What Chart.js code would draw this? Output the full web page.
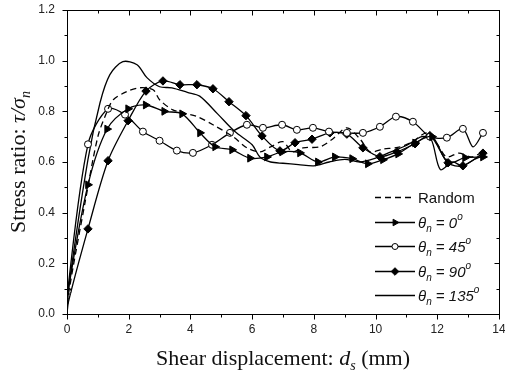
<!DOCTYPE html>
<html lang="en">
<head>
  <meta charset="UTF-8">
  <title>Stress ratio vs shear displacement</title>
  <script src="https://cdn.jsdelivr.net/npm/chart.js"></script>
  <style>
    html, body { margin: 0; padding: 0; background: #fff; }
    .chart-box { width: 505px; height: 381px; }
  </style>
</head>
<body>
  <div class="chart-box"><canvas id="shearChart"></canvas></div>

  <script>
    // values (shear displacement in mm, stress ratio)
    const randomX = [0, 0.05, 0.6, 1.0, 1.3, 1.5, 1.94, 2.37, 2.79, 3.0, 3.43, 4.2, 4.73, 5.38, 5.83, 6.26, 6.6, 7.0, 7.3, 7.65, 8.2, 8.6, 9.07, 9.5, 9.82, 10.2, 10.8, 11.2, 11.66, 12.0, 12.3, 12.7, 13.1, 13.48];
    const randomY = [0, 0.08, 0.45, 0.7, 0.8, 0.846, 0.878, 0.893, 0.885, 0.846, 0.806, 0.78, 0.747, 0.70, 0.656, 0.64, 0.66, 0.68, 0.64, 0.656, 0.66, 0.69, 0.735, 0.69, 0.64, 0.65, 0.66, 0.68, 0.715, 0.67, 0.62, 0.635, 0.62, 0.64];

    const deg0X = [0, 0.05, 0.68, 1.3, 1.98, 2.55, 3.15, 3.73, 4.31, 4.8, 5.35, 5.93, 6.48, 6.97, 7.55, 8.13, 8.68, 9.24, 9.75, 10.24, 10.73, 11.28, 11.83, 12.35, 12.9, 13.48];
    const deg0Y = [0, 0.1, 0.51, 0.73, 0.81, 0.825, 0.80, 0.79, 0.715, 0.66, 0.648, 0.615, 0.62, 0.64, 0.636, 0.60, 0.62, 0.613, 0.593, 0.609, 0.632, 0.675, 0.70, 0.597, 0.617, 0.62];

    const deg45X = [0, 0.02, 0.68, 1.33, 1.88, 2.46, 3.0, 3.56, 4.08, 4.7, 5.28, 5.83, 6.35, 6.97, 7.45, 7.97, 8.49, 9.07, 9.59, 10.14, 10.66, 11.21, 11.76, 12.31, 12.83, 13.16, 13.48];
    const deg45Y = [0, 0.09, 0.67, 0.81, 0.787, 0.72, 0.684, 0.645, 0.636, 0.668, 0.715, 0.747, 0.735, 0.747, 0.727, 0.735, 0.72, 0.715, 0.715, 0.739, 0.779, 0.759, 0.70, 0.696, 0.731, 0.66, 0.715];
    const deg45NoMark = [0, 25];

    const deg90X = [0, 0.05, 0.68, 1.33, 1.98, 2.56, 3.11, 3.66, 4.21, 4.73, 5.25, 5.8, 6.32, 6.9, 7.39, 7.94, 8.52, 9.07, 9.59, 10.14, 10.69, 11.28, 11.76, 12.35, 12.83, 13.48];
    const deg90Y = [0, 0.05, 0.336, 0.605, 0.763, 0.88, 0.92, 0.905, 0.905, 0.889, 0.838, 0.783, 0.703, 0.644, 0.676, 0.69, 0.715, 0.71, 0.656, 0.621, 0.64, 0.672, 0.704, 0.597, 0.585, 0.635];

    const deg135X = [0, 0.05, 0.68, 1.07, 1.39, 1.81, 2.27, 2.59, 3.0, 3.4, 3.9, 4.3, 4.88, 5.44, 6.0, 6.25, 6.6, 7.0, 7.5, 8.0, 8.5, 9.0, 9.5, 10.0, 10.5, 11.0, 11.5, 11.8, 12.1, 12.5, 12.8, 13.2, 13.48];
    const deg135Y = [0, 0.1, 0.61, 0.834, 0.945, 0.996, 0.984, 0.933, 0.897, 0.893, 0.875, 0.86, 0.79, 0.72, 0.668, 0.62, 0.60, 0.595, 0.59, 0.585, 0.60, 0.61, 0.60, 0.615, 0.64, 0.665, 0.70, 0.69, 0.57, 0.60, 0.585, 0.61, 0.625];

    const xTickValues = [0, 2, 4, 6, 8, 10, 12, 14];
    const yTickValues = [0, 0.2, 0.4, 0.6, 0.8, 1.0, 1.2];
    const seriesAngles = ['', '0', '45', '90', '135'];

    function pairs(xs, ys) {
      return xs.map((v, i) => ({ x: v, y: ys[i] }));
    }

    const serif = "'Liberation Serif', 'Times New Roman', serif";
    const sans = "'Liberation Sans', Arial, sans-serif";

    // draws a run of text pieces (italic / sub / sup) starting at x
    function drawPieces(ctx, pieces, x, y) {
      pieces.forEach(p => {
        ctx.font = p.font;
        ctx.fillText(p.t, x, y + (p.dy || 0));
        x += ctx.measureText(p.t).width;
      });
    }
    function piecesWidth(ctx, pieces) {
      let w = 0;
      pieces.forEach(p => { ctx.font = p.font; w += ctx.measureText(p.t).width; });
      return w;
    }

    function drawMarker(ctx, ds, x, y, r) {
      if (!ds.pointStyle) return;
      ctx.save();
      ctx.fillStyle = ds.pointBackgroundColor;
      ctx.strokeStyle = '#000';
      ctx.lineWidth = 1;
      ctx.beginPath();
      if (ds.pointStyle === 'circle') {
        ctx.arc(x, y, r, 0, Math.PI * 2);
      } else if (ds.pointStyle === 'rectRot') {
        ctx.moveTo(x - r, y); ctx.lineTo(x, y - r); ctx.lineTo(x + r, y); ctx.lineTo(x, y + r);
        ctx.closePath();
      } else if (ds.pointStyle === 'triangle') {
        ctx.moveTo(x + r, y); ctx.lineTo(x - r * 0.5, y - r * 0.87); ctx.lineTo(x - r * 0.5, y + r * 0.87);
        ctx.closePath();
      }
      ctx.fill();
      ctx.stroke();
      ctx.restore();
    }

    const framePlugin = {
      id: 'frame',
      afterDraw(chart) {
        const { ctx, chartArea: a, scales: { x, y } } = chart;
        const L = Math.round(a.left) + 0.5, R = Math.round(a.right) + 0.5;
        const T = Math.round(a.top) + 0.5, B = Math.round(a.bottom) + 0.5;
        ctx.save();
        ctx.strokeStyle = '#000';
        ctx.lineWidth = 1;
        ctx.strokeRect(L, T, R - L, B - T);

        // ticks: bottom/left point out, top/right point in
        ctx.beginPath();
        for (let v = 0; v <= 14; v++) {
          const px = Math.round(x.getPixelForValue(v)) + 0.5;
          const len = v % 2 === 0 ? 5 : 3;
          ctx.moveTo(px, B); ctx.lineTo(px, B + len);
          ctx.moveTo(px, T); ctx.lineTo(px, T + len);
        }
        for (let i = 0; i <= 12; i++) {
          const py = Math.round(y.getPixelForValue(i / 10)) + 0.5;
          const len = i % 2 === 0 ? 5 : 3;
          ctx.moveTo(L - len, py); ctx.lineTo(L, py);
          ctx.moveTo(R, py); ctx.lineTo(R - len, py);
        }
        ctx.stroke();

        ctx.fillStyle = '#111';
        ctx.textBaseline = 'alphabetic';
        ctx.textAlign = 'left';

        // x axis title
        const xt = [
          { t: 'Shear displacement: ', font: '22px ' + serif },
          { t: 'd', font: 'italic 22px ' + serif },
          { t: 's', font: 'italic 14px ' + serif, dy: 5 },
          { t: ' (mm)', font: '22px ' + serif }
        ];
        const cx = (a.left + a.right) / 2;
        drawPieces(ctx, xt, cx - piecesWidth(ctx, xt) / 2, 365);

        // y axis title, rotated
        const yt = [
          { t: 'Stress ratio: ', font: '22px ' + serif },
          { t: 'τ/σ', font: 'italic 22px ' + serif },
          { t: 'n', font: 'italic 14px ' + serif, dy: 5 }
        ];
        ctx.save();
        ctx.translate(25, (a.top + a.bottom) / 2);
        ctx.rotate(-Math.PI / 2);
        drawPieces(ctx, yt, -piecesWidth(ctx, yt) / 2, 0);
        ctx.restore();

        // legend
        chart.data.datasets.forEach((ds, i) => {
          const ly = Math.round(197 + i * 24.5) + 0.5;
          ctx.save();
          ctx.strokeStyle = '#000';
          ctx.lineWidth = 1.3;
          ctx.setLineDash(ds.borderDash || []);
          ctx.beginPath();
          ctx.moveTo(375, ly); ctx.lineTo(415, ly);
          ctx.stroke();
          ctx.restore();
          drawMarker(ctx, ds, 395, ly, ds.pointStyle === 'circle' ? 3 : 3.8);

          ctx.textBaseline = 'middle';
          const ty = ly + 1;
          if (!seriesAngles[i]) {
            ctx.font = '15px ' + sans;
            ctx.fillText(ds.label, 418, ty);
          } else {
            drawPieces(ctx, [
              { t: 'θ', font: 'italic 15px ' + sans },
              { t: 'n', font: 'italic 10px ' + sans, dy: 6 },
              { t: ' = ' + seriesAngles[i], font: 'italic 15px ' + sans },
              { t: 'o', font: 'italic 10px ' + sans, dy: -6 }
            ], 418, ty);
          }
        });
        ctx.restore();
      }
    };

    const lineCommon = {
      showLine: true,
      borderColor: '#000',
      borderWidth: 1.3,
      tension: 0.3,
      pointBorderColor: '#000',
      pointBorderWidth: 1
    };

    new Chart(document.getElementById('shearChart'), {
      type: 'scatter',
      data: {
        datasets: [
          Object.assign({}, lineCommon, {
            label: 'Random',
            data: pairs(randomX, randomY),
            borderDash: [6, 4],
            pointRadius: 0
          }),
          Object.assign({}, lineCommon, {
            label: 'θn = 0°',
            data: pairs(deg0X, deg0Y),
            pointStyle: 'triangle',
            pointRotation: 90,
            pointBackgroundColor: '#000',
            pointRadius: ctx => ctx.dataIndex < 2 ? 0 : 4.5
          }),
          Object.assign({}, lineCommon, {
            label: 'θn = 45°',
            data: pairs(deg45X, deg45Y),
            pointStyle: 'circle',
            pointBackgroundColor: '#fff',
            pointRadius: ctx => deg45NoMark.includes(ctx.dataIndex) ? 0 : 3.5
          }),
          Object.assign({}, lineCommon, {
            label: 'θn = 90°',
            data: pairs(deg90X, deg90Y),
            pointStyle: 'rectRot',
            pointBackgroundColor: '#000',
            pointRadius: ctx => ctx.dataIndex < 2 ? 0 : 4.2
          }),
          Object.assign({}, lineCommon, {
            label: 'θn = 135°',
            data: pairs(deg135X, deg135Y),
            pointRadius: 0
          })
        ]
      },
      options: {
        responsive: true,
        maintainAspectRatio: false,
        animation: false,
        devicePixelRatio: 1,
        layout: { padding: { top: 10, right: 6, left: 0, bottom: 0 } },
        plugins: {
          legend: { display: false },
          tooltip: { enabled: false }
        },
        scales: {
          x: {
            type: 'linear',
            min: 0,
            max: 14,
            afterBuildTicks: s => { s.ticks = xTickValues.map(v => ({ value: v })); },
            ticks: {
              color: '#222',
              font: { family: sans, size: 12 },
              padding: 8,
              maxRotation: 0,
              callback: v => String(v)
            },
            grid: { display: false, drawTicks: false, tickLength: 0 },
            border: { display: false },
            afterFit: s => { s.height = 67; s.paddingLeft = 0; s.paddingRight = 0; }
          },
          y: {
            min: 0,
            max: 1.2,
            afterBuildTicks: s => { s.ticks = yTickValues.map(v => ({ value: v })); },
            ticks: {
              color: '#222',
              font: { family: sans, size: 12 },
              padding: 12,
              callback: v => v.toFixed(1)
            },
            grid: { display: false, drawTicks: false, tickLength: 0 },
            border: { display: false },
            afterFit: s => { s.width = 67; s.paddingTop = 0; s.paddingBottom = 0; }
          }
        }
      },
      plugins: [framePlugin]
    });
  </script>
</body>
</html>
